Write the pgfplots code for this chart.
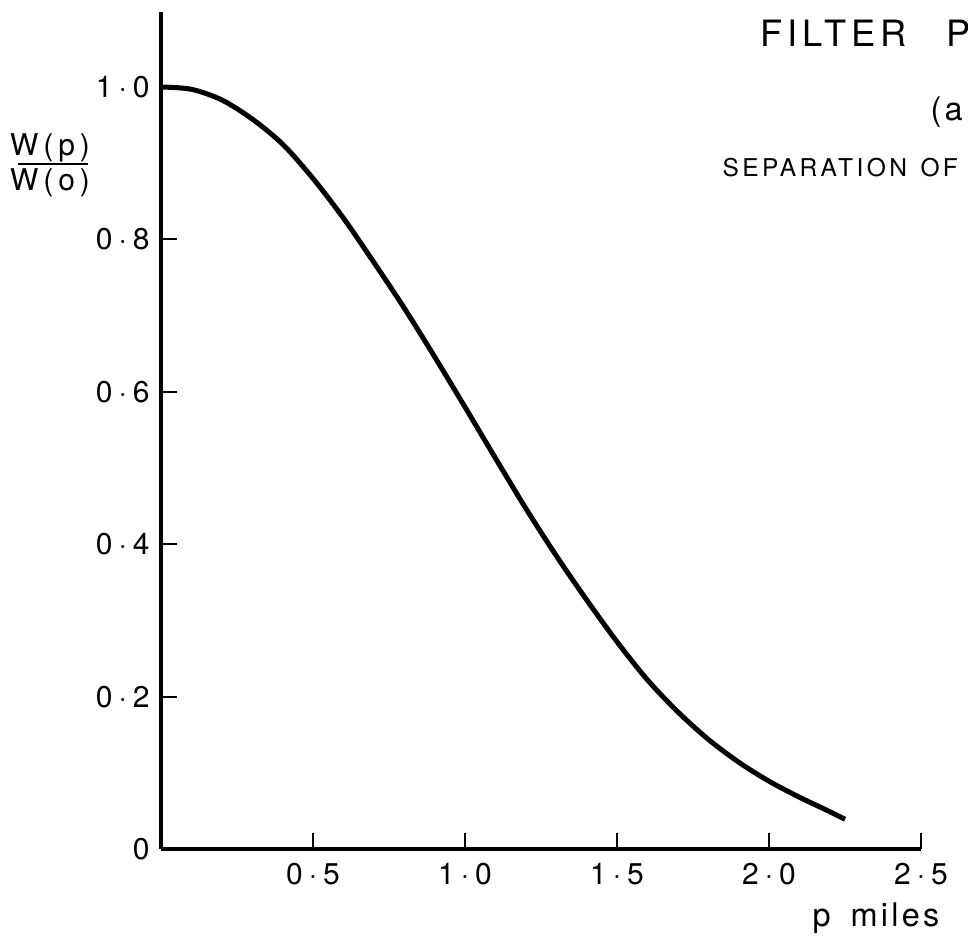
\documentclass[border=0pt]{standalone}
\usepackage{fontspec}
\setmainfont{TeX Gyre Heros}[LetterSpace=10]
\newfontfamily\tickfont{TeX Gyre Heros}[LetterSpace=20]
\newfontfamily\wideletters{TeX Gyre Heros}[LetterSpace=14]
\usepackage{pgfplots}
\pgfplotsset{compat=1.18}

\begin{document}
\begin{tikzpicture}
% page = 968 x 938 px at 0.4pt per px, axis origin at px (161,849)
\path[use as bounding box] (-64.4pt,-35.6pt) rectangle (322.8pt,339.6pt);
\begin{axis}[
    at={(0,0)}, anchor=south west,
    x=121.6pt, y=304.8pt,
    xmin=0, xmax=2.5, ymin=0, ymax=1.098,
    axis lines=left,
    axis line style={-, line width=1.5pt},
    tick align=inside,
    major tick length=6.4pt,
    tick style={line width=0.8pt, black},
    xtick={0.5,1,1.5,2,2.5},
    xticklabels={0·5,1·0,1·5,2·0,2·5},
    ytick={0,0.2,0.4,0.6,0.8,1},
    yticklabels={0,0·2,0·4,0·6,0·8,1·0},
    ticklabel style={font=\tickfont\fontsize{12}{14}\selectfont},
    xticklabel style={yshift=-2pt},
    yticklabel style={xshift=-1pt},
    clip=false,
]
% W(p)/W(o)
\addplot[black, line width=2pt, smooth] coordinates {
    (0,1.000) (0.1,0.997) (0.2,0.983) (0.3,0.958) (0.4,0.925)
    (0.5,0.880) (0.6,0.828) (0.7,0.770) (0.8,0.710) (0.9,0.646)
    (1.0,0.580) (1.1,0.513) (1.2,0.447) (1.3,0.385) (1.4,0.327)
    (1.5,0.272) (1.6,0.222) (1.7,0.180) (1.8,0.144) (1.9,0.114)
    (2.0,0.089) (2.1,0.068) (2.2,0.049) (2.25,0.039)
};
\end{axis}
% labels placed in pixel units of the reference
\begin{scope}[x=0.4pt, y=-0.4pt, shift={(-64.4pt,339.6pt)}]
\node[anchor=base west, inner sep=0, font=\wideletters\fontsize{14.5}{17}\selectfont] at (760,47) {FILTER\hspace{16pt}P};
\node[anchor=base west, inner sep=0, font=\fontsize{13}{15}\selectfont] at (930,121) {(a};
\node[anchor=base west, inner sep=0, font=\wideletters\fontsize{9.8}{12}\selectfont] at (722,177) {SEPARATION};
\node[anchor=base west, inner sep=0, font=\wideletters\fontsize{9.8}{12}\selectfont] at (920,177) {OF};
% y label as a fraction
\node[anchor=base, inner sep=0, font=\wideletters\fontsize{12}{14}\selectfont] at (50,156) {W\,(\,p\,)};
\node[anchor=base, inner sep=0, font=\wideletters\fontsize{12}{14}\selectfont] at (50,191) {W\,(\,o\,)};
\draw[line width=0.8pt] (18,164) -- (88,164);
\node[anchor=base west, inner sep=0, font=\fontsize{13}{15}\selectfont] at (812,926) {p\hspace{8pt}miles};
\end{scope}
\end{tikzpicture}
\end{document}
